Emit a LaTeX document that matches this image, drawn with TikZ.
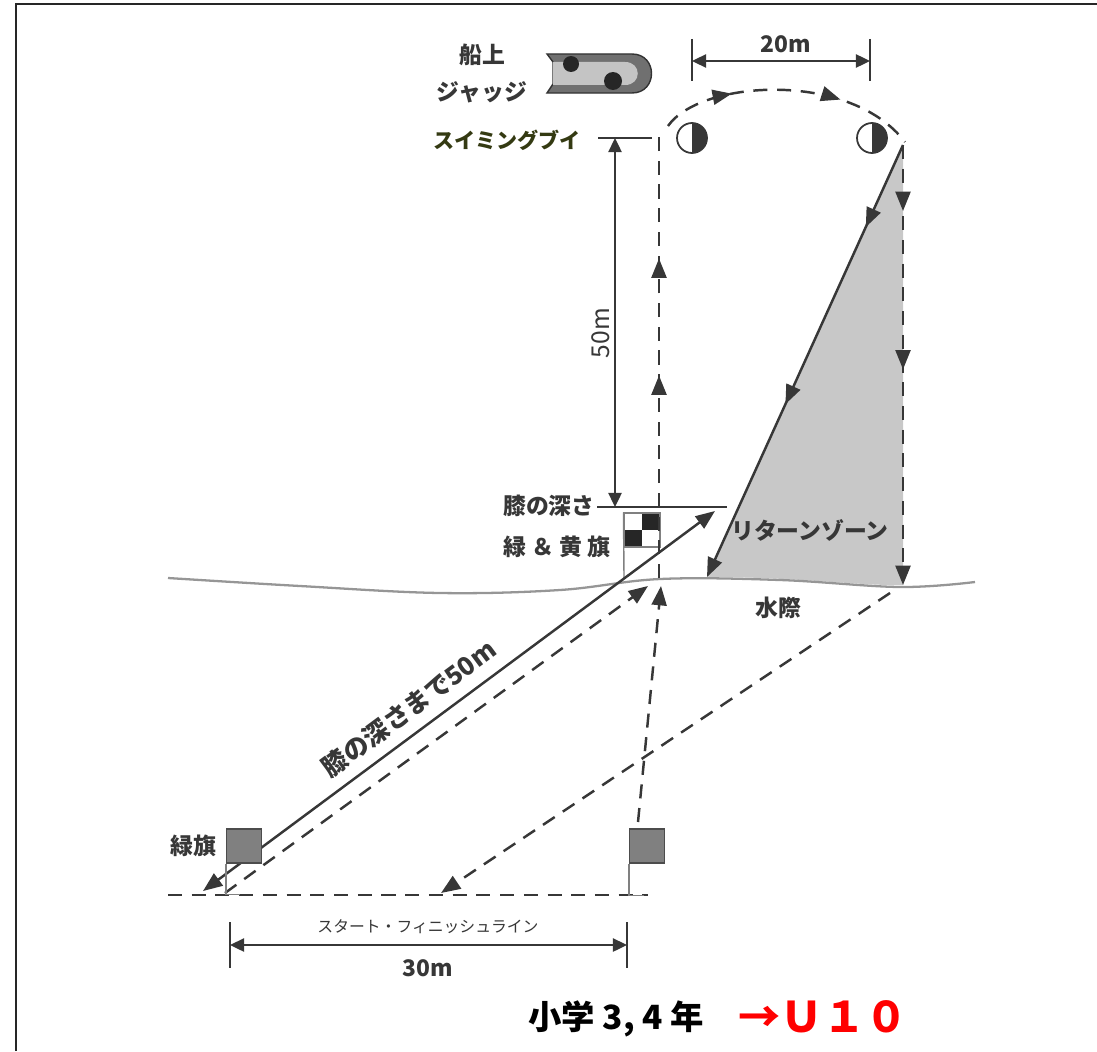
\documentclass[tikz,border=0pt]{standalone}
\usepackage{fontspec}
\setmainfont{Noto Sans CJK JP}
\usetikzlibrary{arrows.meta,decorations.markings}
\definecolor{txtgray}{RGB}{55,55,55}
\definecolor{buoygreen}{RGB}{52,58,18}
\definecolor{zonegray}{RGB}{200,200,200}
\definecolor{flaggray}{RGB}{128,128,128}
\definecolor{hullgray}{RGB}{112,112,112}
\definecolor{deckgray}{RGB}{196,196,196}
\definecolor{watergray}{RGB}{150,150,150}
\tikzset{
	lbl/.style={text=txtgray, font=\bfseries\fontsize{13}{15}\selectfont, inner sep=0pt},
	swim/.style={draw=txtgray, line width=1.4pt, dash pattern=on 8pt off 5.5pt},
	solidline/.style={draw=txtgray, line width=1.4pt},
	thinline/.style={draw=txtgray, line width=1.1pt},
	arrowat/.style={postaction={decorate, decoration={markings, mark=at position #1 with {\arrow{Triangle[length=11pt,width=8.5pt]}}}}},
	buoy/.style={circle, draw=txtgray, line width=1pt, fill=white, minimum size=0.6cm, inner sep=0pt,
		path picture={\fill[txtgray] (path picture bounding box.north) rectangle (path picture bounding box.south east);}},
	flag/.style={rectangle, draw=black!70, fill=flaggray, line width=0.8pt, minimum width=0.7cm, minimum height=0.68cm, inner sep=0pt},
	checker/.style={rectangle, draw=gray, fill=white, line width=0.6pt, minimum width=0.72cm, minimum height=0.68cm, inner sep=0pt,
		path picture={\fill[black!85] (path picture bounding box.center) rectangle (path picture bounding box.north east);
			\fill[black!85] (path picture bounding box.center) rectangle (path picture bounding box.south west);}},
	pole/.style={draw=gray, line width=0.8pt},
	dot/.style={circle, fill=black!85, inner sep=0pt, minimum size=#1},
}
\begin{document}
\begin{tikzpicture}[x=0.02cm, y=-0.02cm, >={Triangle[length=11pt,width=8.5pt]}]
	\useasboundingbox (0,0) rectangle (1097,1051);
	\draw [line width=1.7pt, black!85] (16,1051) -- (16,4) -- (1097,4);
	
	% return zone and water line
	\coordinate (r1) at (903,145);
	\coordinate (r2) at (903,585);
	\coordinate (z1) at (707,577);
	\fill [zonegray] (r1) -- (z1) .. controls (800,577) and (860,586) .. (r2) -- cycle;
	\draw [watergray, line width=1.3pt] plot[smooth, tension=0.6] coordinates {(168,578) (300,586) (440,593) (560,590) (660,579) (780,580) (900,587) (975,582)};
	
	% boat
	\draw [fill=hullgray, draw=black!80, line width=0.8pt] (547,54) -- (632,54) .. controls (658,54) and (658,93) .. (632,93) -- (547,93) -- (553,84) -- (553,62) -- cycle;
	\fill [deckgray] (553,62) -- (625,62) .. controls (642,62) and (642,85) .. (625,85) -- (553,85) -- cycle;
	\node [dot=0.32cm] (d1) at (571,64) {};
	\node [dot=0.36cm] (d2) at (613,81) {};
	\node [lbl] (t1) at (482,55) {船上};
	\node [lbl] (t2) at (482,92) {ジャッジ};
	
	% buoys
	\node [buoy] (b1) at (692,138) {};
	\node [buoy] (b2) at (872,138) {};
	\node [lbl, text=buoygreen, font=\bfseries\fontsize{12}{14}\selectfont] (t3) at (507,140) {スイミングブイ};
	
	% 20m
	\coordinate (p1) at (692,39);
	\coordinate (p2) at (692,81);
	\coordinate (p3) at (870,39);
	\coordinate (p4) at (870,81);
	\draw [thinline] (p1) -- (p2);
	\draw [thinline] (p3) -- (p4);
	\draw [thinline, {Triangle[length=8pt,width=7.5pt]}-{Triangle[length=8pt,width=7.5pt]}] (692,61) -- (870,61);
	\node [lbl] (t4) at (786,44) {20m};
	
	% 50m
	\coordinate (s1) at (598,138);
	\coordinate (s2) at (652,138);
	\coordinate (k1) at (597,507);
	\coordinate (k2) at (727,507);
	\draw [thinline] (s1) -- (s2);
	\draw [thinline] (k1) -- (k2);
	\coordinate (m1) at (615,138);
	\coordinate (m2) at (615,507);
	\draw [thinline, {Triangle[length=8pt,width=7.5pt]}-{Triangle[length=8pt,width=7.5pt]}] (m1) -- (m2);
	\node [lbl, rotate=90, font=\fontsize{14}{16}\selectfont] (t5) at (601,333) {50m};
	\node [lbl, anchor=east] (t6) at (595,506) {膝の深さ};
	
	% green & yellow flag
	\node [checker] (fl3) at (642,530) {};
	\draw [pole] (fl3.north west) -- (624,578);
	\node [lbl] (t7) at (557,547) {緑 ＆ 黄 旗};
	
	% swim course
	\coordinate (u1) at (659,578);
	\coordinate (u2) at (659,128);
	\draw [swim, arrowat=0.45, arrowat=0.71] (u1) -- (u2);
	\coordinate (a1) at (668,126);
	\coordinate (a2) at (905,142);
	\draw [swim, arrowat=0.28, arrowat=0.7] (a1) .. controls (700,80) and (850,70) .. (a2);
	\draw [swim, ->, arrowat=0.15, arrowat=0.51] (r1) -- (r2);
	\draw [solidline, ->, arrowat=0.19, arrowat=0.6] (r1) -- (z1);
	\node [lbl] (t8) at (810,530) {リターンゾーン};
	\node [lbl] (t9) at (778,608) {水際};
	
	% beach runs
	\coordinate (w3) at (890,593);
	\coordinate (f3) at (441,893);
	\draw [swim, ->] (w3) -- (f3);
	\coordinate (f2) at (638,822);
	\coordinate (w2) at (661,586);
	\draw [swim, ->] (f2) -- (w2);
	\coordinate (f1) at (225,893);
	\coordinate (w1) at (648,586);
	\draw [swim, ->] (f1) -- (w1);
	\coordinate (g1) at (203,891);
	\coordinate (k3) at (715,511);
	\draw [solidline, <->] (g1) -- (k3) node [pos=0.43, sloped, above=6pt, lbl, font=\bfseries\fontsize{14.5}{16}\selectfont] {膝の深さまで50m};
	
	% start / finish line
	\coordinate (l1) at (168,895);
	\coordinate (l2) at (648,895);
	\draw [swim] (l1) -- (l2);
	\node [flag] (fl1) at (244,846) {};
	\draw [pole] (fl1.south west) -- ++(0,31) -- ++(14,0);
	\node [flag] (fl2) at (647,846) {};
	\draw [pole] (fl2.south west) -- ++(0,32) -- ++(15,0);
	\node [lbl] (t10) at (193,846) {緑旗};
	
	% 30m
	\coordinate (q1) at (230,922);
	\coordinate (q2) at (230,968);
	\coordinate (q3) at (627,922);
	\coordinate (q4) at (627,968);
	\draw [thinline] (q1) -- (q2);
	\draw [thinline] (q3) -- (q4);
	\draw [thinline, {Triangle[length=8pt,width=7.5pt]}-{Triangle[length=8pt,width=7.5pt]}] (230,945) -- (627,945);
	\node [lbl, font=\fontsize{9}{11}\selectfont] (t11) at (428,927) {スタート・フィニッシュライン};
	\node [lbl] (t12) at (428,968) {30m};
	
	% caption
	\node [inner sep=0pt, font=\bfseries\fontsize{19}{21}\selectfont] (t13) at (616,1019) {小学 3, 4 年};
	\node [inner sep=0pt, text=red, font=\bfseries\fontsize{24}{26}\selectfont] (t14) at (823,1017) {→Ｕ１０};
\end{tikzpicture}
\end{document}
